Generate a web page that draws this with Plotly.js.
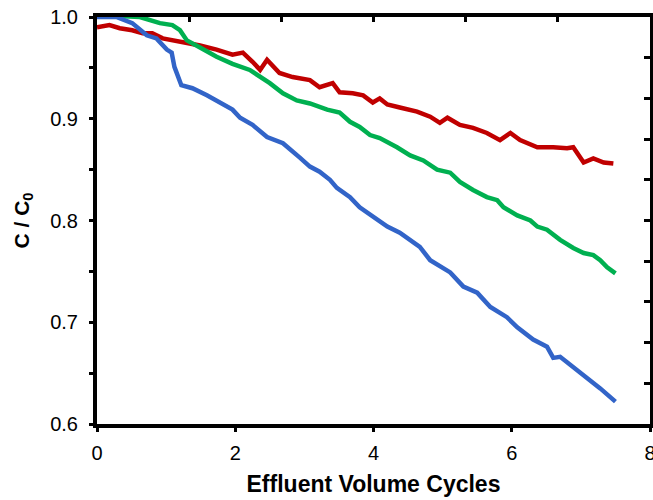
<!DOCTYPE html>
<html>
<head>
<meta charset="utf-8">
<script src="https://cdn.plot.ly/plotly-3.0.1.min.js"></script>
<style>html,body{margin:0;padding:0;background:#fff;}#chart{width:653px;height:500px;}</style>
</head>
<body>
<div id="chart"></div>
<script>
// Blue series
const blueX = [0, 0.28, 0.51, 0.72, 0.86, 1.01, 1.08, 1.12, 1.22, 1.38, 1.59, 1.73, 1.96, 2.07, 2.25, 2.46, 2.69, 2.93, 3.08, 3.22, 3.37, 3.47, 3.66, 3.80, 4.09, 4.20, 4.38, 4.67, 4.82, 5.11, 5.30, 5.50, 5.69, 5.93, 6.08, 6.31, 6.51, 6.60, 6.70, 6.89, 7.14, 7.28, 7.50];
const blueY = [1.0, 1.0, 0.994, 0.982, 0.979, 0.968, 0.965, 0.951, 0.933, 0.930, 0.923, 0.918, 0.909, 0.901, 0.894, 0.882, 0.876, 0.862, 0.853, 0.848, 0.840, 0.832, 0.823, 0.813, 0.800, 0.794, 0.788, 0.774, 0.761, 0.749, 0.735, 0.729, 0.715, 0.705, 0.695, 0.683, 0.676, 0.665, 0.666, 0.656, 0.643, 0.635, 0.622];
// Green series
const greenX = [0, 0.62, 0.91, 1.09, 1.20, 1.30, 1.49, 1.73, 1.96, 2.21, 2.50, 2.69, 2.89, 3.08, 3.33, 3.51, 3.66, 3.80, 3.95, 4.09, 4.34, 4.53, 4.72, 4.92, 5.11, 5.25, 5.44, 5.64, 5.79, 5.88, 6.08, 6.27, 6.37, 6.51, 6.70, 6.89, 7.04, 7.18, 7.28, 7.38, 7.50];
const greenY = [1.002, 1.0, 0.994, 0.992, 0.987, 0.977, 0.970, 0.961, 0.954, 0.948, 0.935, 0.925, 0.918, 0.915, 0.909, 0.906, 0.897, 0.892, 0.884, 0.881, 0.872, 0.864, 0.859, 0.850, 0.847, 0.838, 0.830, 0.823, 0.820, 0.813, 0.805, 0.800, 0.794, 0.791, 0.781, 0.773, 0.768, 0.766, 0.761, 0.754, 0.748];
// Red series
const redX = [0, 0.18, 0.33, 0.51, 0.66, 0.80, 0.95, 1.15, 1.34, 1.49, 1.73, 1.96, 2.11, 2.25, 2.36, 2.46, 2.64, 2.83, 3.08, 3.22, 3.41, 3.51, 3.70, 3.85, 3.99, 4.09, 4.20, 4.38, 4.63, 4.82, 4.96, 5.07, 5.25, 5.44, 5.64, 5.83, 5.98, 6.12, 6.37, 6.60, 6.80, 6.89, 7.04, 7.18, 7.33, 7.47];
const redY = [0.990, 0.992, 0.989, 0.987, 0.984, 0.984, 0.979, 0.977, 0.974, 0.972, 0.968, 0.963, 0.965, 0.956, 0.948, 0.958, 0.945, 0.941, 0.938, 0.931, 0.935, 0.926, 0.925, 0.923, 0.916, 0.920, 0.914, 0.911, 0.907, 0.902, 0.896, 0.901, 0.894, 0.891, 0.886, 0.879, 0.886, 0.879, 0.872, 0.872, 0.871, 0.872, 0.857, 0.861, 0.857, 0.856];

const xTickVals = [0, 2, 4, 6, 8];
const xTickText = ['0', '2', '4', '6', '8'];
const yTickVals = [0.6, 0.7, 0.8, 0.9, 1.0];
const yTickText = ['0.6', '0.7', '0.8', '0.9', '1.0'];

const fontFam = 'Liberation Sans, Arial, sans-serif';
const mk = (x, y, c) => ({x: x, y: y, type: 'scatter', mode: 'lines', line: {color: c, width: 4.5}, hoverinfo: 'skip', showlegend: false, cliponaxis: true});

const traces = [
  mk(redX, redY, '#c00000'),
  mk(greenX, greenY, '#00b050'),
  mk(blueX, blueY, '#3264c8')
];
// invisible trace to activate the secondary (top / right) axes
traces.push({x: [0], y: [0.6], xaxis: 'x2', yaxis: 'y2', type: 'scatter', mode: 'markers', marker: {opacity: 0}, hoverinfo: 'skip', showlegend: false});

const layout = {
  width: 653, height: 500,
  margin: {l: 97, r: 3, t: 17, b: 76},
  paper_bgcolor: '#fff', plot_bgcolor: '#fff',
  font: {family: fontFam, color: '#000', size: 20},
  xaxis: {
    range: [0, 8], tickvals: xTickVals, ticktext: xTickText,
    showgrid: false, zeroline: false,
    showline: true, linecolor: '#000', linewidth: 4,
    ticks: 'outside', ticklen: 4, tickwidth: 3, tickcolor: '#000',
    ticklabelstandoff: 4, ticklabeloverflow: 'allow',
    tickfont: {size: 20, family: fontFam},
    title: {text: '<b>Effluent Volume Cycles</b>', font: {size: 23, family: fontFam}, standoff: 14}
  },
  yaxis: {
    range: [0.6, 1.0], tickvals: yTickVals, ticktext: yTickText,
    showgrid: false, zeroline: false,
    showline: true, linecolor: '#000', linewidth: 4,
    ticks: 'outside', ticklen: 4, tickwidth: 3, tickcolor: '#000',
    minor: {dtick: 0.05, ticks: 'outside', ticklen: 4, tickwidth: 3, tickcolor: '#000', showgrid: false},
    ticklabelstandoff: 7,
    tickfont: {size: 20, family: fontFam},
    title: {text: '<b>C / C<sub>0</sub></b>', font: {size: 21, family: fontFam}, standoff: 16}
  },
  xaxis2: {
    overlaying: 'x', side: 'top', range: [0, 8], tick0: 0, dtick: 8/6,
    showgrid: false, zeroline: false, showticklabels: false,
    showline: true, linecolor: '#000', linewidth: 4,
    ticks: 'inside', ticklen: 5, tickwidth: 3, tickcolor: '#000'
  },
  yaxis2: {
    overlaying: 'y', side: 'right', anchor: 'x2', range: [0.6, 1.0], tick0: 0.6, dtick: 0.04,
    showgrid: false, zeroline: false, showticklabels: false,
    showline: true, linecolor: '#000', linewidth: 3,
    ticks: 'inside', ticklen: 6, tickwidth: 3, tickcolor: '#000'
  }
};

Plotly.newPlot('chart', traces, layout, {staticPlot: true, displayModeBar: false});
</script>
</body>
</html>
